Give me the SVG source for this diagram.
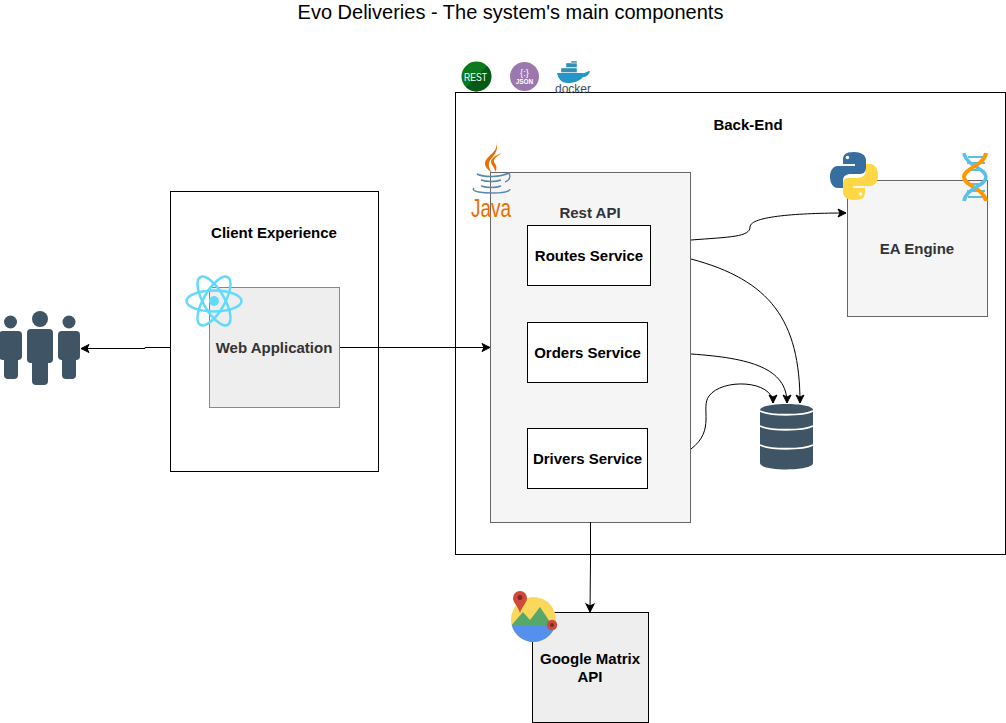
<svg xmlns="http://www.w3.org/2000/svg" width="1006" height="723" viewBox="0 0 1006 723">
<style>
text{font-family:"Liberation Sans",Arial,sans-serif}
.b{font-size:15px;font-weight:bold;text-anchor:middle;fill:#000}
.g{font-size:15px;font-weight:bold;text-anchor:middle;fill:#333}
.box{fill:#fff;stroke:#000;stroke-width:1}
.gray{fill:#f5f5f5;stroke:#666;stroke-width:1}
.gray2{fill:#eee;stroke:#888;stroke-width:1}
.c{fill:none;stroke:#000;stroke-width:1;marker-end:url(#a)}
.slate{fill:#3f5566}
</style>
<defs>
<marker id="a" viewBox="0 0 10 10" refX="9" refY="5" markerWidth="10" markerHeight="10" markerUnits="userSpaceOnUse" orient="auto"><path d="M1,1 L9,5 L1,9 L3,5 Z" fill="#000" stroke="#000" stroke-width="1"/></marker>
<ellipse id="orbit" cx="0" cy="0" rx="27.500" ry="10.500" fill="none" stroke="#61dafb" stroke-width="2.500"/>
</defs>
<rect width="1006" height="723" fill="#fff"/>
<text id="title" x="510.500" y="19" font-size="20" text-anchor="middle" fill="#000">Evo Deliveries - The system's main components</text>

<g id="back-end"><rect class="box" x="455.500" y="92.500" width="550" height="462"/><text class="b" x="748" y="130">Back-End</text></g>
<g id="client-experience"><rect class="box" x="170.500" y="191.500" width="208" height="280"/><text class="b" x="274" y="238">Client Experience</text></g>
<g id="rest-api"><rect class="gray" x="490.500" y="172.500" width="200" height="350"/><text class="g" x="590" y="218">Rest API</text></g>
<g id="routes-service"><rect class="box" x="527.500" y="225.500" width="123" height="60"/><text class="b" x="589" y="261">Routes Service</text></g>
<g id="orders-service"><rect class="box" x="527.500" y="322.500" width="120" height="60"/><text class="b" x="587.500" y="358">Orders Service</text></g>
<g id="drivers-service"><rect class="box" x="527.500" y="428.500" width="120" height="60"/><text class="b" x="587.500" y="464">Drivers Service</text></g>
<g id="ea-engine"><rect class="gray" x="847.500" y="180.500" width="140" height="136"/><text class="g" x="917" y="254">EA Engine</text></g>
<g id="web-application"><rect class="gray2" x="209.500" y="287.500" width="130" height="120"/><text class="g" x="274" y="353">Web Application</text></g>
<g id="google-matrix-api"><rect class="gray2" x="532.500" y="612.500" width="116" height="110" style="stroke:#000"/><text class="b" x="590" y="664">Google Matrix</text><text class="b" x="590" y="682">API</text></g>

<g id="connectors">
<path class="c" d="M170,347.500 H145 V348.500 H81"/>
<path class="c" d="M340,347.500 H490"/>
<path class="c" d="M691,240 C730,237 750,237 750,227 C750,216 800,213 846,213"/>
<path class="c" d="M691,259 C770,280 800,320 800,403"/>
<path class="c" d="M691,354 C750,358 787,368 787,403"/>
<path class="c" d="M691,449 C716,430 700,408 709,396 C722,378 773,380 773,403"/>
<path class="c" d="M590.500,522 V560 L590,612"/>
</g>

<g id="users-icon" class="slate">
<circle cx="10.500" cy="322" r="6.500"/><rect x="-1" y="331" width="23" height="29" rx="4"/><rect x="4" y="350" width="14" height="29" rx="4"/>
<circle cx="40" cy="319" r="8"/><rect x="27" y="329" width="26" height="34" rx="4"/><rect x="32" y="355" width="16" height="30" rx="4"/>
<circle cx="69" cy="322" r="6.500"/><rect x="58" y="331" width="22" height="29" rx="4"/><rect x="62" y="350" width="14" height="29" rx="4"/>
</g>

<g id="database-icon">
<path class="slate" d="M760,410 C760,402 813,402 813,410 V463 C813,471.500 760,471.500 760,463 Z"/>
<path d="M760,411 C770,416 803,416 813,411 M760,426 C770,431 803,431 813,426 M760,445 C770,450 803,450 813,445" fill="none" stroke="#fff" stroke-width="1.800"/>
</g>

<g id="react-icon">
<use href="#orbit" transform="translate(214,301)"/>
<use href="#orbit" transform="translate(214,301) rotate(60)"/>
<use href="#orbit" transform="translate(214,301) rotate(120)"/>
<circle cx="214" cy="301" r="5" fill="#61dafb"/>
</g>

<g id="rest-icon">
<circle cx="476.500" cy="76.500" r="15" fill="#0b7a1f"/>
<path d="M487,66 A15,15 0 0 1 476,91.500 A15,15 0 0 1 466,87 Z" fill="#045a18"/>
<text x="475.500" y="80.500" font-size="10.500" text-anchor="middle" fill="#fff" textLength="23" lengthAdjust="spacingAndGlyphs">REST</text>
</g>
<g id="json-icon">
<circle cx="524.500" cy="76.500" r="14.500" fill="#9a78ad"/>
<text x="524.500" y="75.500" font-size="9.500" text-anchor="middle" fill="#fff">{:}</text>
<text x="524.500" y="84" font-size="7" font-weight="bold" text-anchor="middle" fill="#fff" textLength="17.500" lengthAdjust="spacingAndGlyphs">JSON</text>
</g>
<g id="docker-icon">
<path d="M557,73 H583 C585,74 587,71 590,71 C589,75 586,77 583,77 C579,82 572,83 568,83 C561,83 558,78 557,73 Z" fill="#2496c8"/>
<path d="M561,68 h16 v4.500 h-16 Z M566,63 h11 v4.500 h-11 Z M571,63 h6 v-2 h-6 Z" fill="#2f8fb5" stroke="#fff" stroke-width=".4"/>
<text x="573" y="92.500" font-size="12" text-anchor="middle" fill="#3a4d5c">docker</text>
</g>

<g id="java-icon">
<path d="M496,142 C499,150 490,154 486,160 C483,165 487,169 492,173 C488,167 488,163 491,159 C495,154 499,150 496,142 Z" fill="#e76f00"/>
<path d="M502,153 C496,155 491,158 491,162 C491,165 495,167 495,172 C498,168 496,165 494,162 C493,159 497,156 502,153 Z" fill="#e76f00"/>
<g fill="none" stroke="#5a87a8" stroke-width="1.400">
<path d="M477,174 C485,178 500,177 509,173 C511,177 509,181 505,182"/>
<path d="M481,180 C487,182 496,182 501,180"/>
<path d="M481,186 C487,188 496,188 501,186"/>
<path d="M474,188 C470,192 485,193 492,193 C500,193 510,192 510,189"/>
</g>
<text x="491" y="217" font-size="26" text-anchor="middle" fill="#e76f00" textLength="40" lengthAdjust="spacingAndGlyphs">Java</text>
</g>

<g id="python-icon">
<path d="M854,152 C845,152 843,155 843,160 V164 H855 V166 H838 C832,166 830,172 830,177 C830,183 833,188 838,188 H843 V181 C843,176 846,174 851,174 H860 C864,174 866,171 866,168 V160 C866,155 861,152 854,152 Z" fill="#366f9f"/>
<path d="M854,200 C863,200 865,197 865,192 V188 H853 V186 H870 C876,186 878,180 878,175 C878,169 875,164 870,164 H866 V170 C866,175 862,178 857,178 H848 C844,178 843,181 843,184 V192 C843,197 847,200 854,200 Z" fill="#ffd643"/>
<circle cx="847.500" cy="157.500" r="1.800" fill="#fff"/><circle cx="860.500" cy="194" r="1.800" fill="#fff"/>
</g>

<g id="dna-icon" fill="none">
<path d="M968,157 H984 M967,163 H985 M971,170 H983 M971,184 H983 M967,191 H985 M968,197 H983" stroke="#5bbfe6" stroke-width="2"/>
<path d="M964,153 C966,166 986,168 986,177" stroke="#5bbfe6" stroke-width="3.500"/>
<path d="M986,153 C984,166 964,168 964,177 C964,186 984,188 986,201" stroke="#ff9800" stroke-width="4"/>
<path d="M986,177 C986,186 966,188 964,201" stroke="#5bbfe6" stroke-width="3.500"/>
</g>

<g id="maps-icon">
<circle cx="533.500" cy="619.500" r="22.500" fill="#fbd75b"/>
<path d="M511.700,625 L523,612 L530,620 L540,607 L552,625 Z" fill="#56a76a"/>
<path d="M511.700,625 H555.300 A22.500,22.500 0 0 1 511.700,625 Z" fill="#5490ec"/>
<path d="M520,591 A7,7 0 0 1 527,598 C527,603 522,606 520,613 C518,606 513,603 513,598 A7,7 0 0 1 520,591 Z" fill="#d04a3c"/>
<circle cx="520" cy="597.500" r="2.500" fill="#7c2a22"/>
<circle cx="552" cy="625" r="5.200" fill="#d04a3c"/><circle cx="552" cy="625" r="2" fill="#7c2a22"/>
</g>
</svg>
